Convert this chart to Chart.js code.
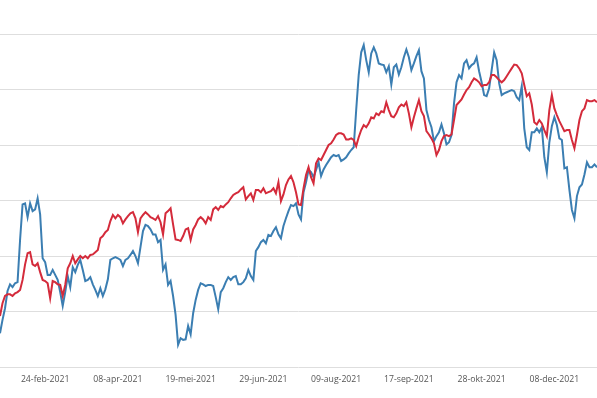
<!DOCTYPE html>
<html>
<head>
<meta charset="utf-8">
<script src="https://cdn.jsdelivr.net/npm/chart.js@4/dist/chart.umd.min.js"></script>
<style>
html,body{margin:0;padding:0;background:#fff;}
#wrap{width:597px;height:398px;position:relative;}
</style>
</head>
<body>
<div id="wrap"><canvas id="c" width="597" height="398"></canvas></div>
<script>
// Trading calendar (Euronext): first and last day shown, market holidays
const firstDay = '2021-01-29';
const lastDay = '2021-12-31';
const holidays = ['2021-04-02', '2021-04-05'];
const monthNames = ['jan','feb','mrt','apr','mei','jun','jul','aug','sep','okt','nov','dec'];

// Tick labels visible on the x axis
const tickLabels = ['24-feb-2021','08-apr-2021','19-mei-2021','29-jun-2021','09-aug-2021','17-sep-2021','28-okt-2021','08-dec-2021'];

// Blue series (one value per trading day)
const blueSeries = [
 6.1, 8.5, 10.6, 13.7, 14.9, 14.4, 15.1, 15.3, 22.9, 29.3,
 29.5, 27.0, 29.5, 28.1, 28.4, 30.4, 27.5, 19.6, 18.9, 16.6,
 16.6, 17.5, 16.6, 15.7, 13.5, 11.0, 13.5, 16.4, 14.4, 18.0,
 17.1, 18.4, 19.3, 17.5, 15.5, 15.7, 16.2, 14.9, 13.9, 12.8,
 14.2, 12.8, 14.0, 15.8, 19.3, 19.6, 19.8, 19.6, 19.3, 18.2,
 19.3, 19.6, 20.2, 20.9, 20.0, 18.7, 21.6, 24.5, 25.6, 25.4,
 24.8, 23.9, 23.9, 22.5, 22.9, 17.5, 18.5, 14.8, 15.5, 12.8,
 9.4, 4.0, 5.2, 4.9, 5.0, 7.4, 5.9, 9.7, 12.1, 13.9,
 15.1, 14.9, 14.6, 14.8, 14.8, 14.6, 12.6, 10.4, 13.5, 14.2,
 15.3, 16.2, 15.7, 16.2, 16.4, 14.9, 14.9, 15.3, 16.0, 17.5,
 16.4, 15.7, 20.9, 21.6, 22.5, 22.9, 22.3, 23.8, 23.6, 24.5,
 25.2, 23.9, 23.2, 25.4, 26.8, 28.1, 29.2, 29.0, 29.5, 27.5,
 26.6, 31.5, 33.3, 35.5, 35.1, 34.2, 35.5, 36.9, 34.4, 35.6,
 36.4, 37.1, 37.8, 38.2, 38.0, 38.2, 37.1, 37.4, 37.8, 38.5,
 39.1, 39.6, 46.3, 52.6, 56.7, 58.0, 55.3, 53.1, 56.5, 57.6,
 56.5, 54.7, 54.5, 54.4, 53.1, 54.2, 50.9, 54.0, 54.5, 52.7,
 54.0, 55.8, 57.2, 55.8, 53.5, 54.7, 56.0, 57.1, 53.3, 52.0,
 46.3, 44.5, 43.2, 40.7, 41.6, 42.3, 43.7, 42.1, 40.1, 40.5,
 41.8, 47.5, 51.3, 52.6, 52.0, 54.7, 55.3, 53.8, 54.4, 54.7,
 55.8, 53.3, 51.3, 49.0, 48.8, 50.2, 53.5, 56.7, 55.3, 51.1,
 49.0, 49.3, 49.5, 49.7, 49.9, 49.7, 48.6, 48.1, 50.6, 43.0,
 39.6, 39.1, 42.3, 42.3, 43.0, 42.3, 43.2, 37.8, 35.1, 40.5,
 43.4, 45.0, 43.6, 41.2, 40.9, 35.8, 36.0, 31.9, 28.3, 26.8,
 30.8, 32.4, 32.9, 34.7, 36.9, 36.0, 36.0, 36.5, 36.0
];

// Red series (one value per trading day)
const redSeries = [
 9.2, 11.5, 12.8, 13.1, 13.1, 12.8, 13.3, 13.5, 13.9, 15.7,
 18.5, 20.5, 20.7, 18.5, 18.2, 18.7, 17.1, 15.7, 15.5, 15.1,
 12.4, 15.5, 15.3, 14.9, 14.8, 12.8, 14.8, 17.8, 18.7, 20.0,
 18.7, 19.4, 20.0, 19.6, 20.0, 19.6, 20.2, 20.3, 20.7, 21.1,
 23.2, 23.6, 24.3, 24.7, 26.3, 27.4, 26.8, 27.4, 27.0, 25.9,
 26.6, 27.2, 27.7, 27.9, 26.8, 24.3, 26.8, 27.4, 27.9, 27.5,
 27.0, 26.8, 26.5, 27.2, 26.1, 23.9, 27.7, 28.1, 28.6, 25.7,
 23.0, 22.9, 22.7, 23.6, 24.8, 25.0, 22.9, 24.8, 25.6, 26.6,
 27.0, 26.6, 25.9, 27.0, 26.5, 28.4, 28.8, 28.3, 29.0, 28.8,
 29.3, 29.7, 30.4, 31.0, 31.3, 31.5, 32.0, 32.4, 30.2, 30.8,
 31.3, 30.1, 31.9, 31.9, 31.5, 32.2, 31.3, 31.5, 31.7, 32.2,
 31.3, 33.3, 29.9, 31.1, 32.8, 33.8, 34.4, 33.3, 31.5, 29.3,
 29.2, 32.2, 34.6, 36.0, 34.2, 33.1, 36.7, 37.6, 37.3, 38.2,
 39.1, 40.0, 40.3, 41.0, 41.8, 42.1, 42.1, 41.9, 41.0, 41.0,
 41.2, 40.9, 39.8, 41.4, 42.7, 43.6, 43.2, 43.9, 45.0, 44.8,
 45.7, 45.4, 46.1, 45.9, 47.7, 46.3, 45.2, 45.0, 45.7, 46.8,
 47.3, 47.0, 47.7, 45.7, 43.2, 45.0, 46.6, 48.1, 46.1, 45.2,
 42.5, 41.9, 41.2, 40.3, 38.2, 39.1, 40.7, 41.6, 41.8, 41.6,
 41.9, 44.5, 47.2, 47.7, 48.2, 49.1, 49.9, 50.4, 51.3, 52.0,
 51.7, 51.3, 50.6, 50.8, 50.8, 51.3, 52.6, 52.6, 52.2, 51.7,
 51.3, 51.7, 52.4, 53.1, 53.8, 54.5, 54.4, 53.8, 52.9, 50.8,
 48.8, 49.3, 47.3, 44.1, 43.7, 44.5, 43.9, 42.7, 41.6, 46.3,
 49.0, 46.6, 45.4, 44.3, 43.4, 42.5, 42.7, 42.7, 40.9, 39.4,
 41.8, 44.5, 46.1, 46.6, 48.1, 47.9, 47.9, 48.1, 47.7
];

// Build the category labels (trading days)
function tradingDays(from, to, skip) {
  const out = [];
  const d = new Date(from + 'T12:00:00Z');
  const end = new Date(to + 'T12:00:00Z');
  while (d <= end) {
    const iso = d.toISOString().slice(0, 10);
    const wd = d.getUTCDay();
    if (wd !== 0 && wd !== 6 && skip.indexOf(iso) < 0) {
      const dd = String(d.getUTCDate()).padStart(2, '0');
      out.push(dd + '-' + monthNames[d.getUTCMonth()] + '-' + d.getUTCFullYear());
    }
    d.setUTCDate(d.getUTCDate() + 1);
  }
  return out;
}
const categories = tradingDays(firstDay, lastDay, holidays);

new Chart(document.getElementById('c'), {
  type: 'line',
  data: {
    labels: categories,
    datasets: [
      { label: 'rood', data: redSeries, borderColor: '#d42b3b', borderWidth: 2, pointRadius: 0, pointHoverRadius: 0, tension: 0, fill: false, order: 0 },
      { label: 'blauw', data: blueSeries, borderColor: '#3b7eb2', borderWidth: 2, pointRadius: 0, pointHoverRadius: 0, tension: 0, fill: false, order: 1 }
    ]
  },
  options: {
    responsive: false,
    animation: false,
    events: [],
    layout: { autoPadding: false, padding: { top: 34, bottom: 13.5, left: 0, right: 0 } },
    plugins: { legend: { display: false }, tooltip: { enabled: false }, title: { display: false } },
    scales: {
      x: {
        type: 'category',
        offset: false,
        grid: { display: false, drawTicks: true, tickLength: 7 },
        border: { display: false },
        ticks: {
          autoSkip: false,
          maxRotation: 0,
          minRotation: 0,
          padding: 0,
          color: '#555',
          font: { family: 'Open Sans', size: 8.7 },
          callback: function (value, index) {
            const lab = this.getLabelForValue(value);
            return tickLabels.indexOf(lab) >= 0 ? lab : '';
          }
        }
      },
      y: {
        min: 0,
        max: 60,
        grid: { color: '#dedede', lineWidth: 1, drawTicks: false },
        border: { display: false },
        ticks: { display: false, stepSize: 10 }
      }
    }
  }
});
</script>
</body>
</html>
